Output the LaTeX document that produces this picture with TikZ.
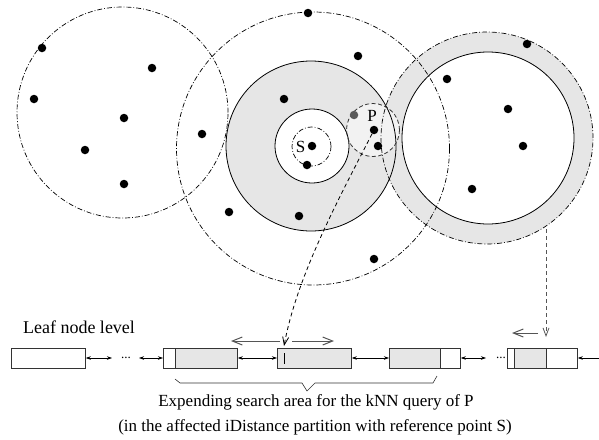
\documentclass[tikz,border=0pt]{standalone}
\usepackage{fontspec}
\setmainfont{Liberation Serif}
\usetikzlibrary{arrows.meta}
\definecolor{ringgray}{HTML}{E6E6E6}
\definecolor{pgray}{HTML}{F2F2F2}
\definecolor{linegray}{HTML}{333333}
\definecolor{arrgray}{HTML}{555555}
\tikzset{
  dashdot/.style={draw=black, line width=0.7pt, dash pattern=on 5pt off 2pt on 0.8pt off 2pt},
  solidc/.style={draw=black, line width=0.8pt},
  pdash/.style={draw=black!80, line width=0.8pt, dash pattern=on 4pt off 2.5pt},
  dotpt/.style={circle, fill=black, inner sep=0pt, minimum size=8.5pt},
  leafbox/.style={draw=linegray, line width=0.8pt, minimum height=20pt, inner sep=0pt, anchor=west},
  linkarr/.style={{Stealth[length=5pt,width=3.5pt]}-{Stealth[length=5pt,width=3.5pt]}, line width=0.6pt, draw=black},
  searcharr/.style={-{Straight Barb[length=10pt,width=8pt]}, line width=1pt, draw=arrgray},
  ptrarr/.style={-{Straight Barb[length=8pt,width=6pt]}, line width=0.8pt, dash pattern=on 4pt off 3pt},
  lbl/.style={font=\fontsize{17}{20}\selectfont, inner sep=0pt},
  ell/.style={font=\fontsize{13}{15}\selectfont, inner sep=0pt}
}
\begin{document}
\begin{tikzpicture}[x=1pt,y=-1pt]
\useasboundingbox (0,0) rectangle (599,439);
% fills
\fill[ringgray] (311,146) circle[radius=85pt];
\fill[white] (312,146) circle[radius=37pt];
\fill[ringgray, even odd rule] (487,138) circle[radius=106pt] (488,138) circle[radius=86pt];
\fill[pgray] (373,130) circle[radius=26.5pt];
% outlines
\draw[dashdot] (122.5,112.5) circle[radius=105.5pt];
\draw[dashdot] (313,148.5) circle[radius=136.5pt];
\draw[solidc] (311,146) circle[radius=85pt];
\draw[solidc] (312,146) circle[radius=37pt];
\draw[dashdot] (311.5,146.5) circle[radius=19.5pt];
\draw[pdash] (373,130) circle[radius=26.5pt];
\draw[dashdot] (487,138) circle[radius=106pt];
\draw[solidc] (488,138) circle[radius=86pt];
% points
\foreach \p/\n in {(42,48)/a1,(152,68)/a2,(34,99)/a3,(124,118)/a4,(85,150)/a5,(124,184)/a6,
  (202,134)/m1,(229,212)/m2,(299,216)/m3,(308,13)/m4,(358,56)/m5,(284,99)/m6,(374,259)/m7,
  (307,165)/s2,(378,146)/p3,
  (447,79)/r1,(527,44)/r2,(508,109)/r3,(523,146)/r4,(472,189)/r5}
  \node[dotpt] (\n) at \p {};
\node[dotpt] (S) at (312,146) {};
\node[dotpt] (P) at (374,130) {};
\node[dotpt, fill=black!65] (pg) at (354,115) {};
\node[lbl] (Slab) at (300.5,147) {S};
\node[lbl] (Plab) at (372,116) {P};
% leaf level
\node[lbl, font=\fontsize{18}{21}\selectfont] (leaf) at (79,327) {Leaf node level};
\fill[ringgray] (175,348) rectangle (237,368);
\fill[ringgray] (277,348) rectangle (351,368);
\fill[ringgray] (389,348) rectangle (440,368);
\fill[ringgray] (514,348) rectangle (546,368);
\node[leafbox, minimum width=74pt] (b1) at (11,358) {};
\node[leafbox, minimum width=74pt] (b2) at (163,358) {};
\node[leafbox, minimum width=74pt] (b3) at (277,358) {};
\node[leafbox, minimum width=71pt] (b4) at (389,358) {};
\node[leafbox, minimum width=70pt] (b5) at (507,358) {};
\draw[linegray, line width=0.8pt] (175,348) -- (175,368);
\draw[linegray, line width=0.8pt] (440,348) -- (440,368);
\draw[linegray, line width=0.8pt] (514,348) -- (514,368);
\draw[linegray, line width=0.8pt] (546,348) -- (546,368);
\draw[black, line width=0.8pt] (284,353) -- (284,364);
\node[ell] (e1) at (126,358) {...};
\node[ell] (e2) at (501,358) {...};
\coordinate (a1e) at (112,358);
\coordinate (a2s) at (139,358);
\coordinate (a3e) at (486,358);
\coordinate (redge) at (599,358);
\draw[linkarr] (b1.east) -- (a1e);
\draw[linkarr] (a2s) -- (b2.west);
\draw[linkarr] (b2.east) -- (b3.west);
\draw[linkarr] (b3.east) -- (b4.west);
\draw[linkarr] (b4.east) -- (a3e);
\draw[{Stealth[length=5pt,width=3.5pt]}-, line width=0.6pt] (b5.east) -- (redge);
% search direction arrows
\coordinate (sl0) at (280,341);
\coordinate (sl1) at (231,341);
\coordinate (sr0) at (292,341);
\coordinate (sr1) at (334,341);
\draw[searcharr] (sl0) -- (sl1);
\draw[searcharr] (sr0) -- (sr1);
\coordinate (rl0) at (538,333);
\coordinate (rl1) at (512,333);
\draw[searcharr] (rl0) -- (rl1);
% pointer arrows
\coordinate (ptip) at (284,346);
\draw[ptrarr, black] (P) .. controls (338,200) and (297,276) .. (ptip);
\coordinate (rtop) at (546,229);
\coordinate (rtip) at (546,337);
\draw[ptrarr, arrgray] (rtop) -- (rtip);
% brace
\draw[linegray, line width=0.6pt] (175,379) -- (180,383) -- (302,383) -- (307,391) -- (315,383) -- (433,383) -- (437,376);
\node[lbl] (t1) at (316,402) {Expending search area for the kNN query of P};
\node[lbl] (t2) at (315,427) {(in the affected iDistance partition with reference point S)};
\end{tikzpicture}
\end{document}
